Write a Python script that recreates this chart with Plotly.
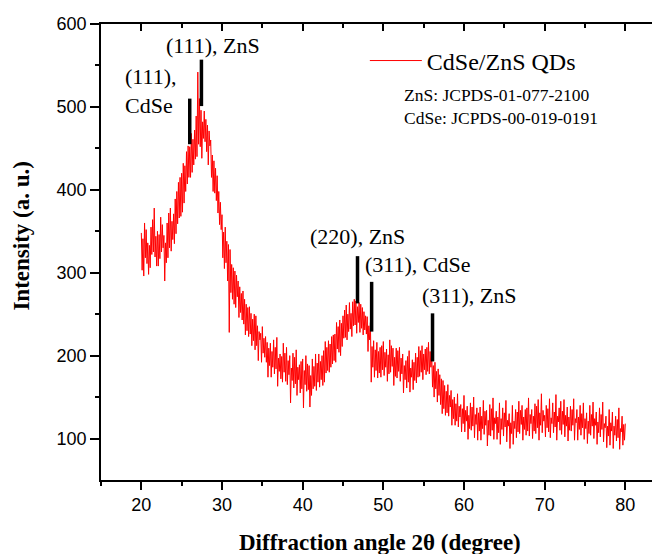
import plotly.graph_objects as go

intensity = [
    348, 303, 341, 296, 360, 318, 352, 311, 336, 298, 333, 306, 355, 322, 364, 325, 378, 319, 344, 308,  # 20
    350, 308, 346, 317, 367, 325, 358, 330, 345, 290, 336, 312, 360, 318, 372, 330, 378, 326, 362, 340,  # 22
    371, 335, 389, 347, 398, 359, 409, 366, 415, 368, 420, 373, 432, 384, 429, 398, 446, 407, 453, 415,  # 24
    452, 415, 468, 421, 461, 430, 472, 437, 489, 440, 542, 455, 510, 452, 496, 438, 482, 462, 495, 458,  # 26
    485, 446, 478, 430, 471, 453, 460, 415, 442, 398, 435, 396, 426, 387, 417, 372, 398, 358, 385, 352,  # 28
    370, 318, 349, 305, 355, 312, 338, 290, 334, 228, 328, 276, 310, 268, 306, 262, 302, 258, 297, 271,  # 30
    290, 246, 283, 252, 275, 243, 278, 238, 268, 225, 262, 230, 258, 223, 259, 226, 251, 212, 244, 218,  # 32
    250, 207, 248, 212, 236, 194, 229, 219, 227, 192, 235, 203, 221, 198, 223, 192, 216, 174, 209, 188,  # 34
    215, 174, 205, 186, 219, 178, 210, 184, 222, 163, 197, 181, 202, 172, 199, 168, 215, 180, 203, 169,  # 36
    210, 165, 194, 177, 200, 143, 185, 170, 203, 161, 198, 166, 207, 152, 186, 171, 189, 155, 193, 160,  # 38
    196, 137, 182, 165, 200, 157, 190, 159, 188, 138, 176, 152, 196, 160, 187, 163, 202, 158, 191, 168,  # 40
    202, 162, 193, 171, 200, 164, 206, 168, 217, 179, 210, 182, 218, 180, 214, 186, 223, 190, 225, 194,  # 42
    226, 192, 240, 208, 235, 204, 243, 200, 239, 211, 248, 221, 255, 222, 261, 219, 250, 229, 264, 232,  # 44
    251, 223, 265, 236, 268, 237, 266, 227, 259, 240, 264, 228, 262, 233, 258, 225, 253, 231, 248, 226,  # 46
    247, 205, 236, 219, 240, 168, 211, 186, 218, 174, 207, 182, 216, 173, 205, 179, 210, 174, 212, 183,  # 48
    217, 176, 204, 186, 208, 169, 201, 178, 219, 180, 212, 187, 209, 164, 198, 175, 209, 173, 206, 181,  # 50
    210, 169, 197, 178, 202, 155, 188, 171, 194, 161, 199, 168, 206, 156, 185, 174, 195, 159, 192, 170,  # 52
    203, 167, 198, 174, 211, 175, 206, 180, 212, 171, 202, 183, 208, 177, 210, 181, 216, 178, 205, 186,  # 54
    202, 162, 188, 150, 192, 160, 181, 144, 184, 152, 177, 141, 172, 130, 170, 136, 164, 128, 157, 131,  # 56
    165, 127, 152, 138, 158, 116, 147, 124, 150, 116, 142, 121, 154, 114, 139, 126, 141, 108, 136, 118,  # 58
    152, 108, 134, 121, 139, 99, 128, 112, 143, 110, 138, 115, 150, 101, 129, 117, 137, 98, 131, 109,    # 60
    138, 98, 127, 112, 146, 105, 133, 116, 134, 91, 122, 104, 141, 103, 136, 110, 149, 99, 125, 118,     # 62
    133, 99, 126, 107, 143, 93, 124, 111, 137, 103, 131, 114, 146, 96, 122, 115, 130, 88, 119, 106,      # 64
    140, 93, 121, 112, 135, 101, 132, 108, 145, 106, 134, 117, 140, 98, 126, 111, 135, 104, 137, 109,    # 66
    149, 103, 129, 118, 135, 100, 127, 109, 142, 106, 139, 113, 147, 98, 131, 116, 154, 107, 134, 121,   # 68
    128, 102, 140, 113, 136, 108, 148, 101, 125, 118, 143, 107, 132, 114, 153, 98, 127, 120, 137, 110,   # 70
    145, 105, 133, 117, 147, 102, 128, 115, 138, 97, 126, 110, 139, 109, 135, 116, 148, 98, 124, 119,    # 72
    135, 98, 126, 111, 140, 104, 130, 113, 143, 99, 124, 112, 131, 94, 121, 106, 140, 104, 129, 115,     # 74
    144, 100, 124, 116, 132, 93, 120, 107, 137, 102, 129, 111, 144, 96, 118, 113, 127, 89, 115, 103,     # 76
    135, 92, 119, 109, 132, 88, 115, 104, 127, 97, 123, 101, 137, 87, 112, 108, 127, 92, 117, 98,        # 78
    118,                                                                                                  # 80
]

# 2-theta grid (degrees): 0.1 deg step starting at 20
two_theta = [round(20 + 0.1 * i, 1) for i in range(len(intensity))]

# reference peak markers (JCPDS positions)
ref_pos = [26.0, 27.45, 46.8, 48.55, 56.1]
ref_top = [510, 557, 320, 289, 251]
ref_bottom = [455, 501, 263, 229, 193]

ref_labels = ["(111),<br>CdSe", "(111), ZnS", "(220), ZnS", "(311), CdSe", "(311), ZnS"]
label_x = [17.68, 28.85, 46.8, 54.3, 60.63]
label_y = [519.6, 574.5, 343.7, 310.0, 272.7]
label_anchor = ["left", "center", "center", "center", "center"]

serif = "Liberation Serif"
sans = "Liberation Sans"

fig = go.Figure()

fig.add_trace(go.Scatter(
    x=two_theta, y=intensity, mode="lines", name="CdSe/ZnS QDs",
    line=dict(color="#ff0000", width=1.0, simplify=False), showlegend=True,
))

ref_x, ref_y = [], []
for p, t, b in zip(ref_pos, ref_top, ref_bottom):
    ref_x += [p, p, None]
    ref_y += [b, t, None]
fig.add_trace(go.Scatter(
    x=ref_x, y=ref_y, mode="lines", line=dict(color="black", width=3.5),
    showlegend=False, hoverinfo="skip",
))

# invisible trace on top axis so the top axis with inward ticks is drawn
fig.add_trace(go.Scatter(x=[two_theta[0]], y=[intensity[0]], xaxis="x2",
                         mode="markers", marker=dict(opacity=0), showlegend=False,
                         hoverinfo="skip"))

xr = [15, 84.3]
fig.update_layout(
    width=652, height=546,
    margin=dict(l=93, r=0, t=16, b=74),
    paper_bgcolor="white", plot_bgcolor="white",
    xaxis=dict(
        range=xr, tickvals=[20, 30, 40, 50, 60, 70, 80],
        ticks="outside", ticklen=8, tickwidth=1.5, tickcolor="black",
        minor=dict(tickvals=[15, 25, 35, 45, 55, 65, 75], ticks="outside", ticklen=4,
                   tickwidth=1.5, tickcolor="black"),
        showline=True, linecolor="black", linewidth=1.5,
        showgrid=False, zeroline=False,
        tickfont=dict(family=sans, size=18, color="black"),
    ),
    xaxis2=dict(
        range=xr, overlaying="x", side="top", tickvals=[20, 30, 40, 50, 60, 70, 80],
        ticks="inside", ticklen=7, tickwidth=1.5, tickcolor="black",
        minor=dict(tickvals=[25, 35, 45, 55, 65, 75], ticks="inside", ticklen=4,
                   tickwidth=1.5, tickcolor="black"),
        showline=True, linecolor="black", linewidth=1.5,
        showticklabels=False, showgrid=False, zeroline=False,
    ),
    yaxis=dict(
        range=[50, 600], tickvals=[100, 200, 300, 400, 500, 600],
        ticks="outside", ticklen=9, tickwidth=1.5, tickcolor="black",
        minor=dict(tickvals=[150, 250, 350, 450, 550], ticks="outside", ticklen=4,
                   tickwidth=1.5, tickcolor="black"),
        showline=True, linecolor="black", linewidth=1.5,
        showgrid=False, zeroline=False,
        tickfont=dict(family=sans, size=18, color="black"),
    ),
    legend=dict(
        x=0.472, y=0.919, xanchor="left", yanchor="middle",
        bgcolor="rgba(0,0,0,0)", font=dict(family=serif, size=24, color="black"),
        itemwidth=52,
    ),
    showlegend=True,
)

ann = []
for txt, lx, ly, anc in zip(ref_labels, label_x, label_y, label_anchor):
    ann.append(dict(x=lx, y=ly, text=txt, xanchor=anc, yanchor="middle", align="left",
                    xref="x", yref="y", showarrow=False,
                    font=dict(family=serif, size=22, color="black")))

ann.append(dict(x=0.538, y=0.820, xref="paper", yref="paper", xanchor="left",
                yanchor="middle", showarrow=False, align="left",
                text="ZnS: JCPDS-01-077-2100<br>CdSe: JCPDS-00-019-0191",
                font=dict(family=serif, size=17.5, color="black")))
ann.append(dict(x=0.499, y=-0.136, xref="paper", yref="paper", xanchor="center",
                yanchor="middle", showarrow=False,
                text="<b>Diffraction angle 2θ (degree)</b>",
                font=dict(family=serif, size=23, color="black")))
ann.append(dict(x=-0.1413, y=0.536, xref="paper", yref="paper", xanchor="center",
                yanchor="middle", showarrow=False, textangle=-90,
                text="<b>Intensity (a. u.)</b>",
                font=dict(family=serif, size=23, color="black")))
fig.update_layout(annotations=ann)

fig.write_html("out.html")
